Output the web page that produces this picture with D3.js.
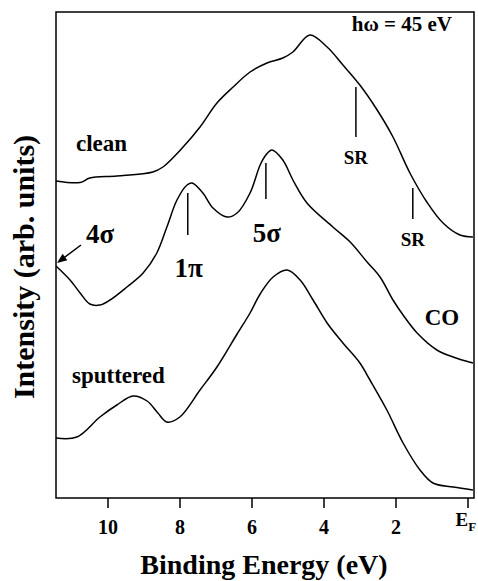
<!doctype html>
<html>
  <head>
    <meta charset="utf-8">
    <title>Photoemission spectra</title>
    <script src="https://cdn.jsdelivr.net/npm/d3@7/dist/d3.min.js"></script>
    <style>
      body { margin: 0; background: #fff; }
      text { font-family: "Liberation Serif", "Times New Roman", serif; font-weight: bold; fill: #000; }
    </style>
  </head>
  <body>
    <div id="chart"></div>
  <script>
    // binding energy (eV) and intensity (arb. units) for each spectrum
    var cleanE = [11.43, 10.76, 10.49, 9.74, 8.74, 8.46, 7.90, 7.43, 6.96, 6.51, 6.04, 5.57, 5.13, 4.85, 4.38,
                  3.90, 3.46, 2.99, 2.51, 2.07, 1.60, 1.13, 0.68, 0.21, -0.15];
    var cleanI = [31.7, 31.55, 32.0, 32.2, 32.6, 33.1, 35.1, 37.1, 39.5, 41.1, 42.6, 43.5, 44.0, 44.6, 46.3,
                  45.1, 43.3, 41.3, 38.8, 36.1, 32.5, 29.6, 27.5, 26.3, 26.1];

    var coE = [11.43, 11.04, 10.76, 10.49, 10.21, 9.93, 9.46, 9.01, 8.63, 8.35, 8.07, 7.79, 7.65, 7.35, 7.07,
               6.68, 6.40, 6.04, 5.76, 5.60, 5.43, 5.13, 4.85, 4.46, 3.74, 3.26, 2.79, 2.43, 2.07, 1.79,
               1.40, 0.85, 0.40, -0.15];
    var coI = [23.2, 21.8, 20.5, 19.4, 19.3, 19.8, 21.1, 22.5, 24.5, 27.1, 29.8, 31.3, 31.5, 30.5, 29.0,
               28.1, 28.5, 30.5, 33.3, 34.3, 34.8, 33.8, 31.8, 29.5, 27.1, 25.6, 23.6, 22.1, 19.8, 18.3,
               16.5, 14.8, 14.1, 13.5];

    var sputE = [11.43, 10.85, 10.21, 9.74, 9.29, 8.90, 8.60, 8.35, 7.99, 7.43, 6.96, 6.40, 6.04, 5.76, 5.40,
                 5.01, 4.65, 4.29, 3.90, 3.46, 2.99, 2.71, 2.24, 1.79, 1.32, 0.96, 0.40, -0.15];
    var sputI = [6.0, 6.1, 8.1, 9.3, 10.2, 9.7, 8.5, 7.6, 8.1, 10.8, 13.1, 16.4, 18.5, 20.4, 22.1,
                 22.8, 21.8, 19.8, 17.5, 15.5, 13.5, 11.8, 8.8, 5.5, 2.8, 1.5, 1.1, 0.8];

    var tickValues = [10, 8, 6, 4, 2, 0];

    // marker positions: [energy, intensity top, intensity bottom, label]
    var srMarks = [[3.1, 41.1, 36.1, "SR"], [1.52, 31.0, 27.9, "SR"]];
    var orbitalMarks = [[7.77, 30.5, 26.3, "1\u03c0"], [5.6, 33.5, 29.9, "5\u03c3"]];

    var width = 478,
      height = 581,
      plotLeft = 56, plotRight = 474, plotTop = 12, plotBottom = 498;

    var svg = d3.select("#chart")
                .append("svg")
                .attr("width", width)
                .attr("height", height);

    var x = d3.scaleLinear().domain([11.43, -0.18]).range([plotLeft, plotRight]);
    var y = d3.scaleLinear().domain([0, 48.6]).range([plotBottom, plotTop]);

    function zip(es, is) {
      return es.map(function(e, i) { return [e, is[i]]; });
    }

    var line = d3.line()
      .x(function(d) { return x(d[0]); })
      .y(function(d) { return y(d[1]); })
      .curve(d3.curveCatmullRom.alpha(0.5));

    [zip(cleanE, cleanI), zip(coE, coI), zip(sputE, sputI)].forEach(function(s) {
      svg.append("path")
         .attr("d", line(s))
         .attr("fill", "none")
         .attr("stroke", "#000")
         .attr("stroke-width", 1.5);
    });

    // frame
    svg.append("rect")
       .attr("x", plotLeft).attr("y", plotTop)
       .attr("width", plotRight - plotLeft).attr("height", plotBottom - plotTop)
       .attr("fill", "none").attr("stroke", "#000").attr("stroke-width", 1.5);

    var axis = svg.append("g")
      .attr("transform", "translate(0," + plotBottom + ")")
      .call(d3.axisBottom(x)
        .tickValues(tickValues)
        .tickSize(10)
        .tickPadding(12)
        .tickFormat(function(d) { return d === 0 ? "" : d; }));
    axis.select(".domain").remove();
    axis.selectAll("line").attr("stroke-width", 1.5);
    axis.selectAll("text")
        .attr("font-size", 20)
        .attr("font-family", "Liberation Serif, serif")
        .attr("font-weight", "bold");

    var ef = svg.append("text")
      .attr("x", x(0) - 12).attr("y", 526)
      .attr("font-size", 19);
    ef.append("tspan").text("E");
    ef.append("tspan").attr("font-size", 13).attr("dy", 5).text("F");

    svg.append("text")
       .attr("x", 264).attr("y", 574)
       .attr("text-anchor", "middle")
       .attr("font-size", 28)
       .text("Binding Energy (eV)");

    svg.append("text")
       .attr("transform", "translate(34,267) rotate(-90)")
       .attr("text-anchor", "middle")
       .attr("font-size", 30)
       .text("Intensity (arb. units)");

    svg.append("text")
       .attr("x", 452).attr("y", 31)
       .attr("text-anchor", "end")
       .attr("font-size", 21)
       .text("h\u03c9 = 45 eV");

    svg.append("text").attr("x", 76).attr("y", 151).attr("font-size", 23).text("clean");
    svg.append("text").attr("x", 72).attr("y", 383).attr("font-size", 23).text("sputtered");
    svg.append("text").attr("x", 442).attr("y", 325).attr("text-anchor", "middle").attr("font-size", 23).text("CO");

    srMarks.forEach(function(m) {
      svg.append("line")
         .attr("x1", x(m[0])).attr("x2", x(m[0]))
         .attr("y1", y(m[1])).attr("y2", y(m[2]))
         .attr("stroke", "#000").attr("stroke-width", 1.5);
      svg.append("text")
         .attr("x", x(m[0])).attr("y", y(m[2]) + 27)
         .attr("text-anchor", "middle")
         .attr("font-size", 19)
         .text(m[3]);
    });

    orbitalMarks.forEach(function(m, i) {
      svg.append("line")
         .attr("x1", x(m[0])).attr("x2", x(m[0]))
         .attr("y1", y(m[1])).attr("y2", y(m[2]))
         .attr("stroke", "#000").attr("stroke-width", 1.5);
      svg.append("text")
         .attr("x", x(m[0]) + 1).attr("y", i === 0 ? 277 : 242)
         .attr("text-anchor", "middle")
         .attr("font-size", 27)
         .text(m[3]);
    });

    // 4 sigma label with arrow pointing at the left edge of the CO curve
    svg.append("text").attr("x", 100).attr("y", 243).attr("text-anchor", "middle").attr("font-size", 27).text("4\u03c3");
    var ax0 = 81, ay0 = 245, ax1 = x(coE[0]) + 1, ay1 = y(coI[0]) - 3;
    svg.append("line")
       .attr("x1", ax0).attr("y1", ay0).attr("x2", ax1 + 6).attr("y2", ay1 - 4.5)
       .attr("stroke", "#000").attr("stroke-width", 1.5);
    var ang = Math.atan2(ay1 - ay0, ax1 - ax0), hl = 10, hw = 4;
    var bx = ax1 - hl * Math.cos(ang), by = ay1 - hl * Math.sin(ang);
    svg.append("path")
       .attr("d", "M" + ax1 + "," + ay1 +
                  "L" + (bx - hw * Math.sin(ang)) + "," + (by + hw * Math.cos(ang)) +
                  "L" + (bx + hw * Math.sin(ang)) + "," + (by - hw * Math.cos(ang)) + "Z")
       .attr("fill", "#000");
  </script>
  </body>
</html>
